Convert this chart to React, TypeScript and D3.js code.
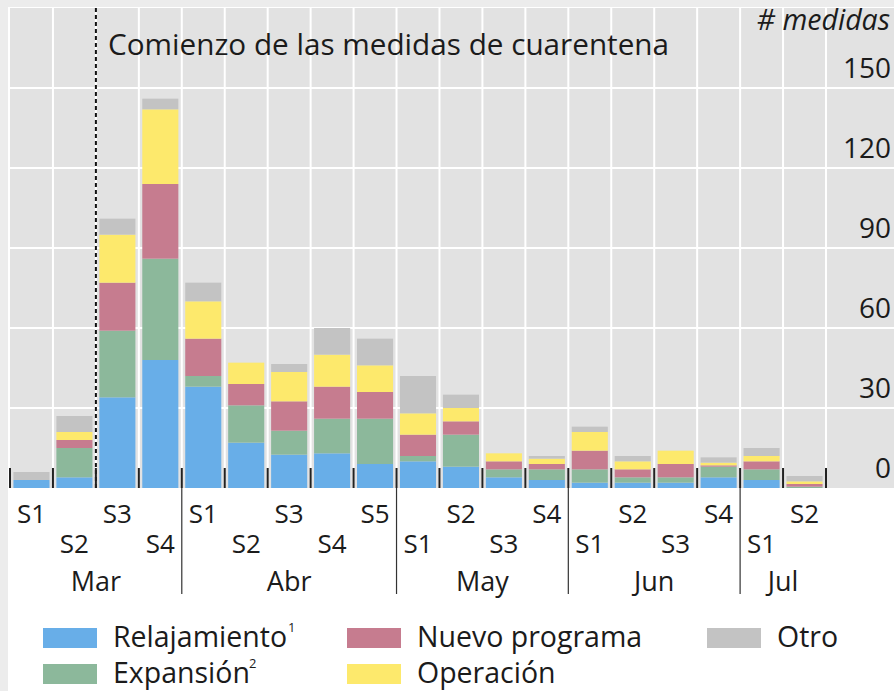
import React from "react";
import * as d3 from "d3";

// weekly buckets, Mar..Jul
const weeks = ["S1", "S2", "S3", "S4", "S1", "S2", "S3", "S4", "S5", "S1", "S2", "S3", "S4", "S1", "S2", "S3", "S4", "S1", "S2"];
const months = ["Mar", "Abr", "May", "Jun", "Jul"];
const weeksPerMonth = [4, 5, 4, 4, 2];

// # medidas by type
const relajamiento = [3, 4, 34, 48, 38, 17, 12.5, 13, 9, 10, 8, 4, 3, 2, 2, 2, 4, 3, 0];
const expansion = [0, 11, 25, 38, 4, 14, 9, 13, 17, 2, 12, 3, 4, 5, 2, 2, 4, 4, 0.5];
const nuevoPrograma = [0, 3, 18, 28, 14, 8, 11, 12, 10, 8, 5, 3, 2, 7, 3, 5, 0.5, 3, 1];
const operacion = [0, 3, 18, 28, 14, 8, 11, 12, 10, 8, 5, 3, 2, 7, 3, 5, 1, 2, 1];
const otro = [3, 6, 6, 4, 7, 0, 3, 10, 10, 14, 5, 0, 1, 2, 2, 0, 2, 3, 2];

const yTicks = [0, 30, 60, 90, 120, 150];
const quarantineStart = 2; // boundary before Mar S3

const seriesKeys = ["relajamiento", "expansion", "nuevoPrograma", "operacion", "otro"];
const colors: Record<string, string> = {
  relajamiento: "#68aee8",
  expansion: "#8cb89b",
  nuevoPrograma: "#c67c8f",
  operacion: "#fde96c",
  otro: "#c3c3c3",
};

const W = 894;
const H = 691;
const panel = { left: 10, right: 894, top: 8, bottom: 488 };
const barsRight = 826;
const font = "'Open Sans', 'Noto Sans', sans-serif";
const ink = "#1b1b1b";

export default function App() {
  const rows = weeks.map((w, i) => ({
    idx: String(i),
    relajamiento: relajamiento[i],
    expansion: expansion[i],
    nuevoPrograma: nuevoPrograma[i],
    operacion: operacion[i],
    otro: otro[i],
  }));

  const x = d3
    .scaleBand<string>()
    .domain(rows.map((r) => r.idx))
    .range([panel.left, barsRight])
    .paddingInner(0.16)
    .paddingOuter(0.08);

  const y = d3.scaleLinear().domain([0, 180]).range([panel.bottom, panel.top]);

  const stacked = d3.stack<any>().keys(seriesKeys)(rows);

  const step = x.step();
  const edge = (i: number) => panel.left + i * step;

  // month boundaries (in slot counts)
  const monthEdges: number[] = [0];
  weeksPerMonth.forEach((n) => monthEdges.push(monthEdges[monthEdges.length - 1] + n));

  const legend = [
    { key: "relajamiento", label: "Relajamiento", sup: "1", supX: 175, col: 0, row: 0 },
    { key: "expansion", label: "Expansión", sup: "2", supX: 136, col: 0, row: 1 },
    { key: "nuevoPrograma", label: "Nuevo programa", sup: "", supX: 0, col: 1, row: 0 },
    { key: "operacion", label: "Operación", sup: "", supX: 0, col: 1, row: 1 },
    { key: "otro", label: "Otro", sup: "", supX: 0, col: 2, row: 0 },
  ];
  const legendCols = [43, 347, 707];
  const legendRows = [628, 664];

  return (
    <div style={{ position: "absolute", left: 0, top: 0 }}>
      <svg width={W} height={H} style={{ display: "block", fontFamily: font }}>
        <rect x={0} y={0} width={W} height={H} fill="#ececec" />
        <rect x={8} y={7} width={W - 8} height={H - 7} fill="#ffffff" />
        <rect
          x={panel.left}
          y={panel.top}
          width={panel.right - panel.left}
          height={panel.bottom - panel.top}
          fill="#e2e2e2"
        />

        {/* grid */}
        {yTicks.slice(1).map((t) => (
          <line key={"h" + t} x1={panel.left} x2={panel.right} y1={y(t)} y2={y(t)} stroke="#fff" strokeWidth={2} />
        ))}
        {d3.range(1, weeks.length + 1).map((i) => (
          <line key={"v" + i} x1={edge(i)} x2={edge(i)} y1={panel.top} y2={panel.bottom} stroke="#fff" strokeWidth={2} />
        ))}

        {/* bars */}
        {stacked.map((layer) => (
          <g key={layer.key} fill={colors[layer.key]}>
            {layer.map((d, i) => (
              <rect
                key={i}
                x={x(String(i))}
                width={x.bandwidth()}
                y={y(d[1])}
                height={Math.max(0, y(d[0]) - y(d[1]))}
              />
            ))}
          </g>
        ))}

        {/* quarantine line */}
        <line
          x1={edge(quarantineStart)}
          x2={edge(quarantineStart)}
          y1={panel.top}
          y2={panel.bottom}
          stroke="#111"
          strokeWidth={2}
          strokeDasharray="4,3"
        />
        <text x={108} y={55} fontSize={29.7} fill={ink}>
          Comienzo de las medidas de cuarentena
        </text>

        {/* y axis labels */}
        <text x={890} y={30} fontSize={28.5} fontStyle="italic" textAnchor="end" fill={ink}>
          # medidas
        </text>
        {yTicks.map((t) => (
          <text key={"yl" + t} x={891} y={y(t) - 10} fontSize={28} textAnchor="end" fill={ink}>
            {t}
          </text>
        ))}

        {/* x ticks */}
        {d3.range(0, weeks.length + 1).map((i) => (
          <line key={"t" + i} x1={edge(i)} x2={edge(i)} y1={468} y2={panel.bottom} stroke="#222" strokeWidth={2} />
        ))}
        {monthEdges.slice(1, -1).map((m) => (
          <line key={"m" + m} x1={edge(m)} x2={edge(m)} y1={panel.bottom} y2={594} stroke="#333" strokeWidth={1.2} />
        ))}

        {/* week labels */}
        {weeks.map((w, i) => (
          <text
            key={"w" + i}
            x={(x(String(i)) as number) + x.bandwidth() / 2}
            y={i % 2 === 0 ? 523 : 553}
            fontSize={26}
            textAnchor="middle"
            fill={ink}
          >
            {w}
          </text>
        ))}
        {months.map((m, k) => (
          <text
            key={m}
            x={(edge(monthEdges[k]) + edge(monthEdges[k + 1])) / 2}
            y={591}
            fontSize={27}
            textAnchor="middle"
            fill={ink}
          >
            {m}
          </text>
        ))}

        {/* legend */}
        {legend.map((l) => (
          <g key={l.key} transform={`translate(${legendCols[l.col]},${legendRows[l.row]})`}>
            <rect x={0} y={0} width={54} height={20} fill={colors[l.key]} />
            <text x={70} y={19} fontSize={28.5} fill={ink}>
              {l.label}
            </text>
            {l.sup && (
              <text x={70 + l.supX} y={4} fontSize={13} fill={ink}>
                {l.sup}
              </text>
            )}
          </g>
        ))}
      </svg>
    </div>
  );
}
